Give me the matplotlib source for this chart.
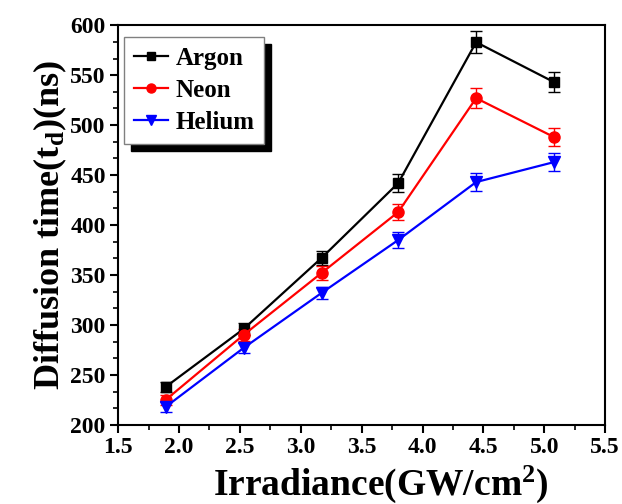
import matplotlib
matplotlib.use("Agg")
import matplotlib.pyplot as plt
from matplotlib.ticker import MultipleLocator, AutoMinorLocator
from matplotlib.lines import Line2D

irradiance = [1.89, 2.53, 3.17, 3.80, 4.44, 5.08]
argon = [238, 296, 367, 442, 583, 543]
neon = [225, 290, 352, 413, 527, 488]
helium = [218, 277, 332, 385, 443, 463]
argon_err = [5, 6, 7, 9, 11, 10]
neon_err = [5, 6, 7, 8, 10, 9]
helium_err = [5, 5, 6, 8, 9, 9]

plt.rcParams['font.family'] = ['Liberation Serif', 'DejaVu Serif']
plt.rcParams['font.weight'] = 'bold'
plt.rcParams['mathtext.fontset'] = 'custom'
plt.rcParams['mathtext.rm'] = 'Liberation Serif:bold'
plt.rcParams['mathtext.it'] = 'Liberation Serif:bold'
plt.rcParams['mathtext.bf'] = 'Liberation Serif:bold'

fig = plt.figure(figsize=(6.22, 5.04), dpi=100)
ax = fig.add_axes([0.19, 0.157, 0.783, 0.793])

series = [
    ("Argon", argon, argon_err, 'black', 's', 7),
    ("Neon", neon, neon_err, 'red', 'o', 8),
    ("Helium", helium, helium_err, 'blue', 'v', 8),
]
handles = []
for name, vals, err, col, mk, ms in series:
    ax.errorbar(irradiance, vals, yerr=err, color=col, marker=mk, markersize=ms,
                linewidth=1.6, elinewidth=1.0, capsize=4, capthick=1.0)
    handles.append(Line2D([], [], color=col, marker=mk, markersize=ms - 1.5,
                          linewidth=1.6, label=name))

ax.set_xlim(1.5, 5.5)
ax.set_ylim(200, 600)
ax.xaxis.set_major_locator(MultipleLocator(0.5))
ax.xaxis.set_minor_locator(AutoMinorLocator(2))
ax.yaxis.set_major_locator(MultipleLocator(50))
ax.yaxis.set_minor_locator(AutoMinorLocator(3))
ax.tick_params(which='major', direction='out', length=6, width=1.5, labelsize=17, pad=3)
ax.tick_params(which='minor', direction='out', length=3.5, width=1.2)
for s in ax.spines.values():
    s.set_linewidth(1.5)
for lab in ax.get_xticklabels() + ax.get_yticklabels():
    lab.set_fontweight('bold')

ax.set_xlabel(r"Irradiance(GW/cm$^{\mathbf{2}}$)", fontsize=27, fontweight='bold')
ax.xaxis.set_label_coords(0.54, -0.097, transform=ax.transAxes)
ax.xaxis.label.set_verticalalignment('top')
ax.set_ylabel(r"Diffusion time(t$_{\mathbf{d}}$)(ns)", fontsize=26, fontweight='bold', labelpad=1)

leg = ax.legend(handles=handles, loc='upper left', bbox_to_anchor=(0.012, 0.97),
                prop={'size': 18, 'weight': 'bold'},
                fancybox=False, shadow={'color': 'black', 'alpha': 1, 'ox': 5, 'oy': -5},
                frameon=True, handlelength=1.35, handletextpad=0.3, labelspacing=0.35,
                borderpad=0.4, borderaxespad=0.0)
leg.get_frame().set_edgecolor('gray')
leg.get_frame().set_linewidth(1.0)

fig.savefig("out.png", dpi=100)
